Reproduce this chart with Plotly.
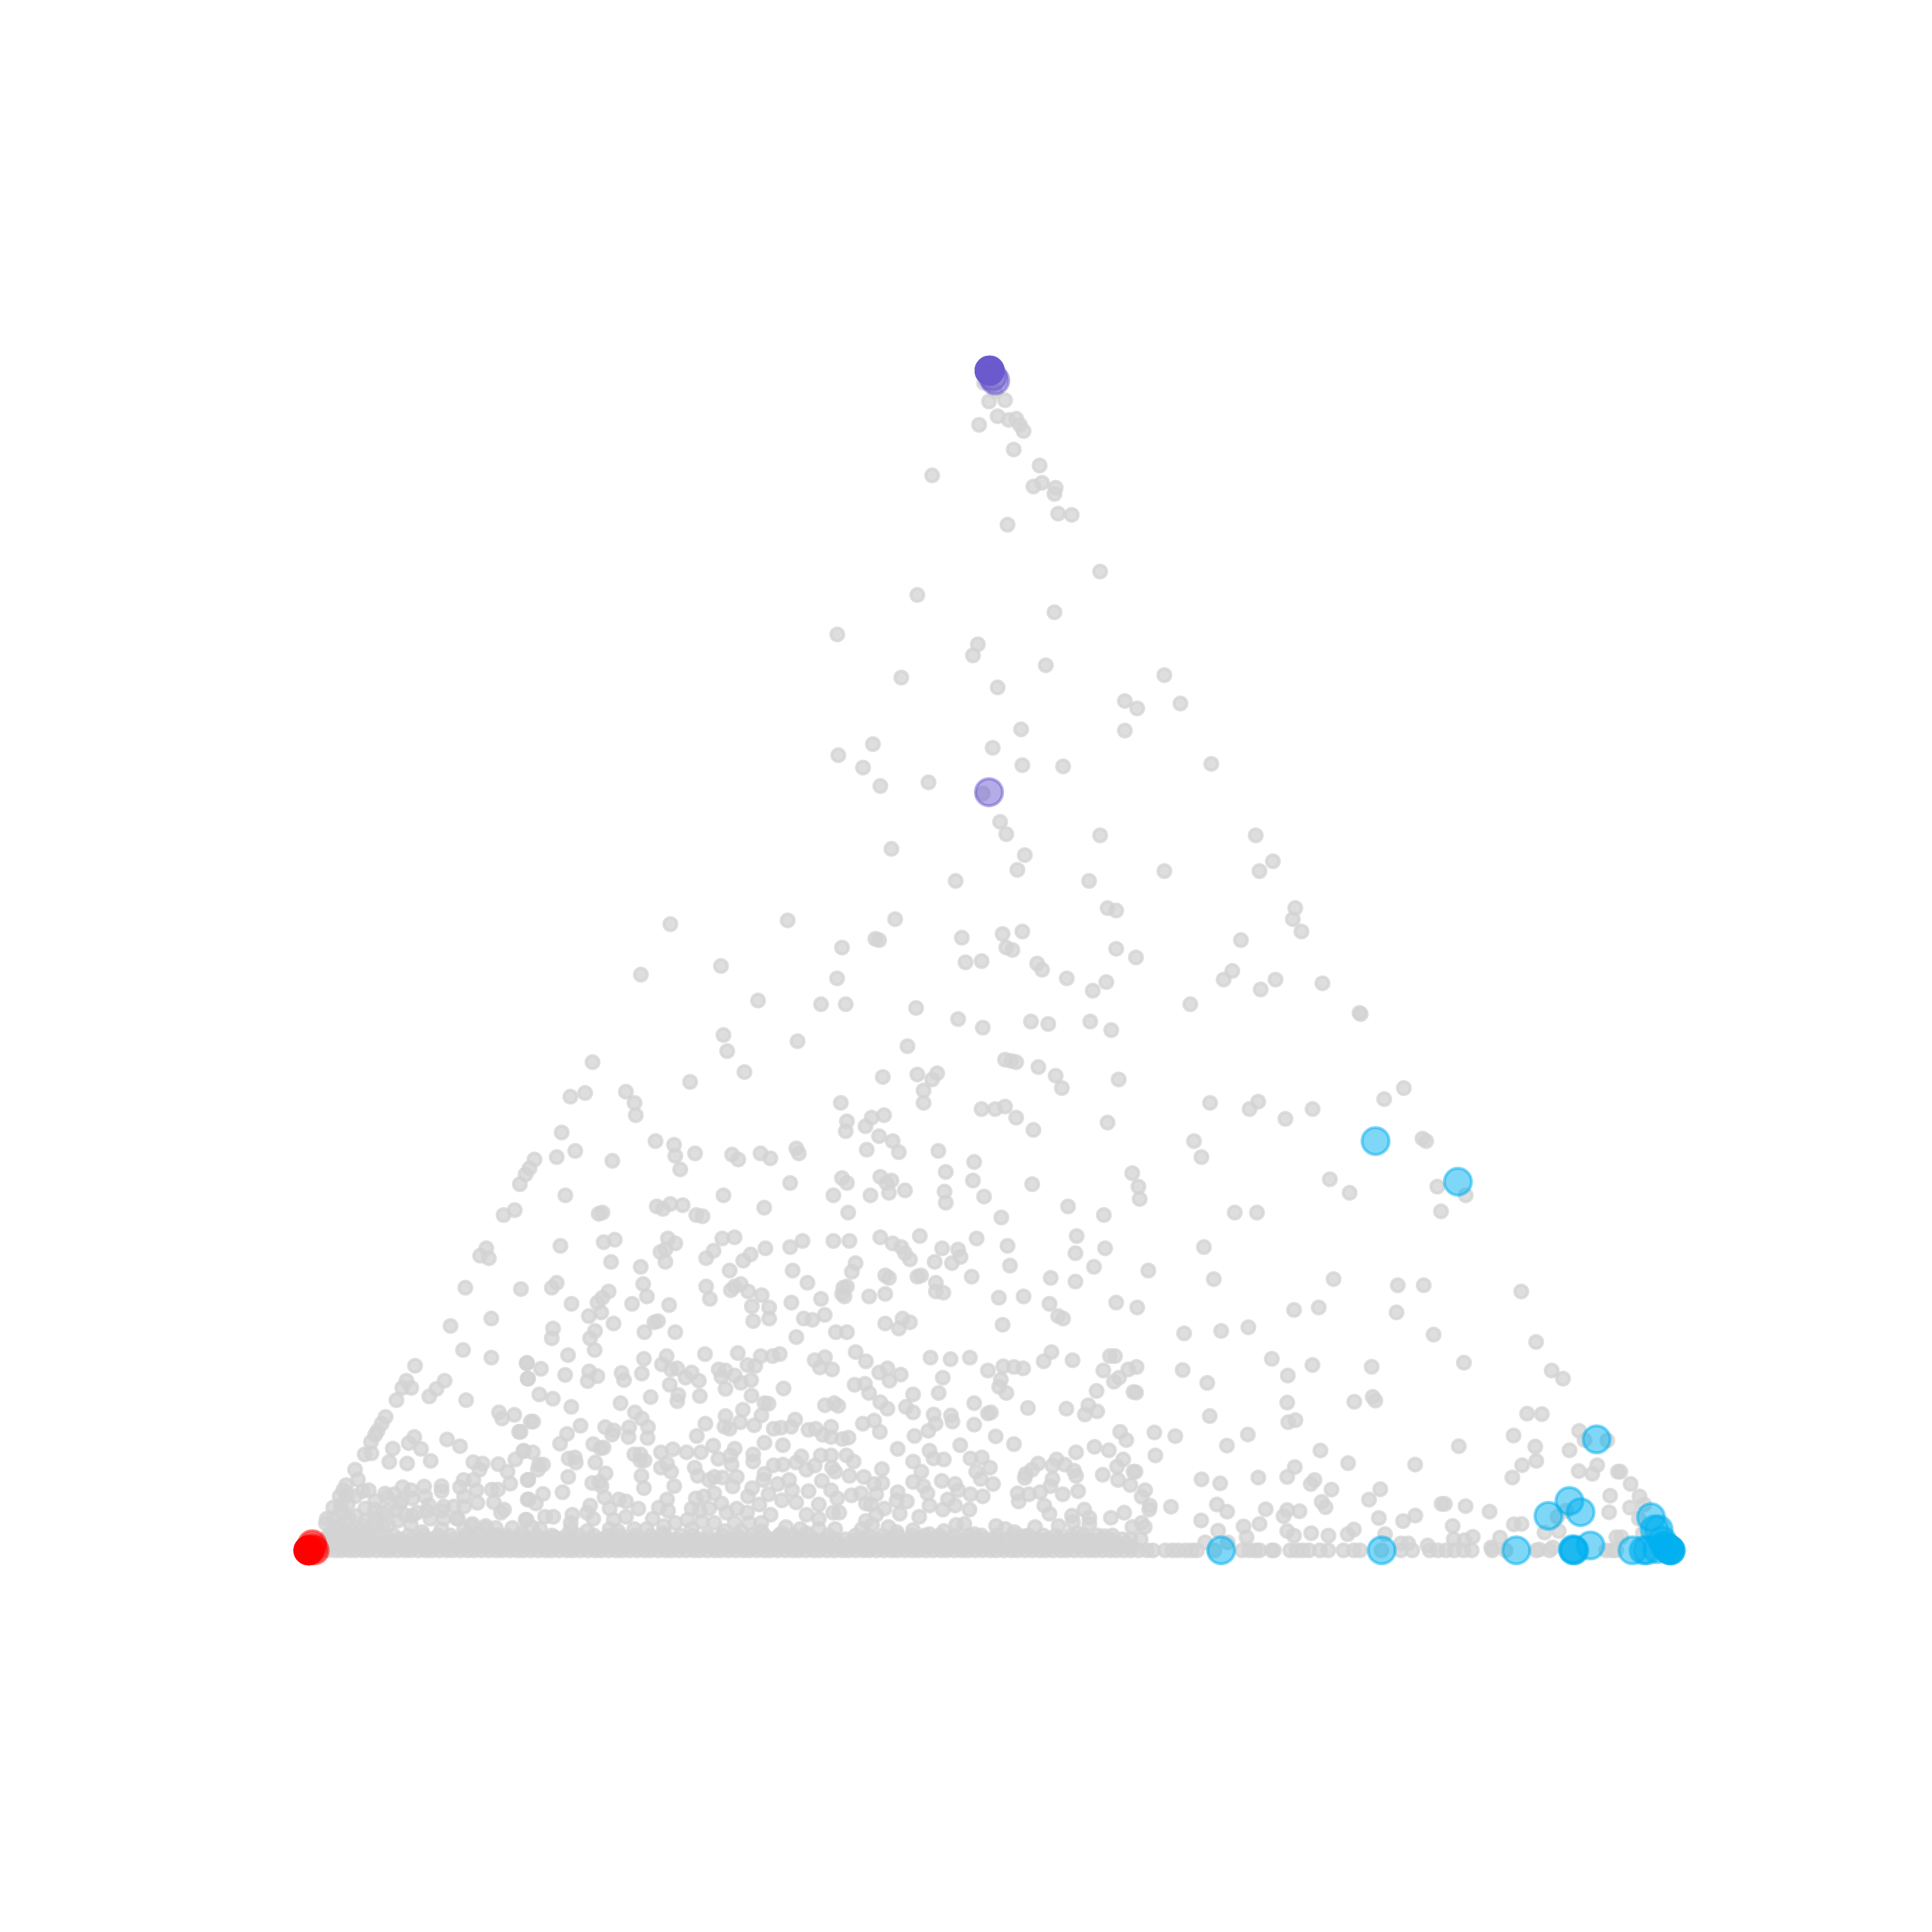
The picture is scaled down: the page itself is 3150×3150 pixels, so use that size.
import plotly.graph_objects as go

# Readings: u runs along the base, v down from the apex level.
LEFT_U, RIGHT_U, BASE_V, APEX_V = 252.0, 1355.0, 1258.0, 301.0

grey_upper = [(803,310),(799,311),(808,318),(803,326),(816,325),(795,345),(810,338),(819,341),(825,340),(828,345),(831,350),(823,365),(844,378),(757,386),(839,395),(846,392),(857,396),(856,401),(859,417),(870,418),(818,426),(893,464),(745,483),(856,497),(680,515),(794,523),(790,532),(849,540),(732,550),(810,558),(945,548),(913,569),(923,575),(958,571),(829,592),(913,593),(709,604),(681,613),(806,607),(701,623),(830,621),(863,622),(983,620),(715,638),(754,635),(798,644),(812,667),(817,677),(893,678),(1019,678),(724,689),(832,694),(1033,699),(826,706),(945,707),(1022,707),(776,715),(884,715),(899,737),(906,739),(1051,737),(1049,746),(727,746),(640,747),(545,750),(781,761),(814,758),(830,756),(1056,756),(711,762),(714,763),(684,769),(817,769),(822,771),(906,770),(1007,763),(922,777),(784,781),(797,780),(842,782),(846,787),(586,784),(521,791),(1000,788),(993,795),(866,794),(680,794),(1035,795),(898,797),(887,804),(1023,803),(1073,798),(616,812),(667,815),(687,815),(744,818),(966,815),(1103,822),(1104,823),(778,827),(837,829),(851,831),(885,829),(798,834),(902,836),(588,840),(648,845),(737,849),(591,853),(816,860),(821,861),(825,862),(843,866),(482,862),(605,870),(717,874),(745,872),(761,871),(757,876),(857,873),(908,876),(561,878),(1139,883),(509,886),(476,887),(464,890),(516,895),(683,895),(750,885),(750,895),(862,883),(982,895),(1021,894),(1014,900),(1065,900),(1123,892),(797,900),(808,900),(816,898),(825,907),(718,905),(708,907),(703,914),(517,905),(899,911),(1043,908),(687,918),(688,910),(839,917),(457,919),(1154,924),(1157,926),(969,926),(725,926),(714,922),(533,926),(548,929),(549,938),(704,933),(730,935),(647,932),(649,936),(595,937),(600,941),(618,936),(626,940),(565,936),(468,934),(453,939),(435,941),(498,942),(762,934),(791,943),(975,939),(431,948),(427,953),(423,961),(553,949),(684,956),(688,960),(768,951),(919,952),(715,955),(720,960),(724,958),(642,960),(677,970),(707,970),(722,968),(735,966),(790,958),(767,967),(768,976),(799,971),(924,963),(925,973),(1079,957),(1095,968),(1166,963),(1189,970),(838,961),(460,970),(588,970),(534,979),(545,977),(555,978),(539,981),(621,980),(867,979),(410,986),(419,982),(487,985),(490,984),(566,986),(571,987),(689,984),(813,988),(896,986),(1002,984),(1020,984),(1169,983)]

grey_middle = [(587,1005),(597,1004),(543,1005),(549,1009),(491,1008),(500,1006),(652,1007),(642,1012),(690,1007),(715,1004),(747,1003),(793,1005),(874,1003),(456,1011),(396,1013),(391,1019),(398,1021),(541,1014),(537,1016),(580,1015),(574,1021),(610,1018),(604,1023),(622,1013),(677,1007),(725,1009),(732,1012),(735,1017),(765,1013),(778,1014),(818,1011),(873,1017),(897,1013),(977,1012),(497,1024),(521,1028),(541,1024),(593,1031),(644,1031),(695,1025),(692,1032),(739,1022),(759,1024),(773,1025),(780,1020),(820,1027),(932,1031),(985,1038),(1082,1038),(379,1045),(424,1046),(449,1045),(453,1041),(495,1048),(523,1042),(526,1052),(574,1044),(597,1044),(602,1042),(577,1054),(594,1047),(608,1048),(619,1051),(656,1041),(685,1045),(688,1044),(719,1035),(722,1037),(745,1036),(748,1035),(760,1041),(760,1048),(766,1049),(789,1036),(853,1037),(873,1040),(888,1028),(1134,1043),(1155,1043),(1234,1048),(490,1053),(486,1057),(465,1058),(514,1058),(544,1059),(643,1057),(667,1054),(684,1050),(686,1052),(706,1052),(719,1050),(811,1053),(831,1052),(852,1058),(906,1057),(923,1061),(1050,1063),(1070,1061),(1133,1065),(400,1070),(479,1068),(489,1065),(611,1060),(625,1061),(612,1072),(625,1070),(653,1070),(660,1071),(670,1067),(532,1073),(535,1072),(499,1074),(859,1068),(863,1070),(733,1070),(739,1073),(719,1074),(730,1078),(367,1076),(450,1078),(484,1080),(480,1086),(449,1086),(524,1081),(549,1081),(647,1085),(679,1081),(688,1081),(814,1075),(961,1082),(991,1080),(1013,1077),(1163,1083),(1246,1089)]

grey_wedge = [(266,1236),(272,1232),(278,1226),(284,1220),(290,1214),(296,1210),(274,1240),(282,1236),(290,1230),(298,1224),(306,1218),(314,1212),(286,1242),(296,1238),(306,1232),(316,1226),(326,1220),(336,1216),(300,1242),(312,1238),(324,1234),(336,1230),(348,1226),(360,1226),(372,1232),(384,1238),(396,1240)]

# Finer readings of the lower part, taken from 3x crops (crop x, crop y).
crop_450 = [(687,82),(925,5),(1063,42),(1235,70),(1240,145),(640,155),(625,190),(672,190),(600,250),(835,155),(795,195),(760,232),(940,250),(1100,310),(1115,340),(1175,322),(1198,405),(1255,355),(547,332),(525,365),(505,400),(490,420),(470,455),(478,510),(445,515),(687,430),(660,460),(720,488),(582,487),(565,552),(652,560),(767,547),(847,442),(910,475),(1220,497),(1180,540),(975,553),(1020,560),(1005,590),(1097,563),(1142,600),(1155,658),(1240,640),(392,590),(412,638),(345,665),(340,690),(360,715),(465,690),(630,675),(670,690),(555,725),(590,710),(625,740),(735,672),(740,720),(758,762),(820,670),(820,695),(910,675),(928,640),(975,640),(990,690),(1065,687),(1095,687),(995,752),(930,720),(1075,750),(1110,800),(1125,785),(1240,735),(495,785),(530,800),(600,790),(640,810),(700,800),(765,830),(830,770),(880,770),(930,770),(830,830),(900,830),(970,855),(1035,865),(1085,875),(1165,875),(1230,835),(450,838),(500,860),(560,860),(670,860),(725,895),(820,880),(930,880),(330,760),(300,720),(270,775),(230,830),(340,800),(370,830),(320,860),(280,895),(350,895),(420,890),(280,950),(1000,900),(1100,910),(1210,900)]

crop_850 = [(37,68),(105,97),(42,145),(237,30),(223,127),(340,110),(380,133),(333,157),(367,5),(498,117),(510,152),(597,120),(607,48),(718,35),(695,75),(740,100),(770,95),(840,115),(810,140),(875,155),(733,175),(775,225),(770,255),(880,230),(640,235),(97,222),(163,243),(253,283),(493,265),(563,310),(597,340),(627,382),(625,435),(67,355),(298,375),(232,415),(198,463),(5,405),(418,382),(460,398),(452,418),(535,383),(532,430),(907,365),(865,425),(1005,328),(1090,297),(1000,380),(1025,390),(1077,358),(1145,373),(1132,228),(1195,265),(1180,325),(1215,268),(1288,193),(972,100),(1005,105),(985,135),(1005,195),(1050,130),(1080,165),(1130,152),(1112,78),(1150,83),(1177,35),(1235,35),(1270,25),(1065,20),(905,25),(1240,390),(1195,458),(1275,385),(1345,345),(1325,380),(1410,395),(1445,390),(1480,420),(1285,470),(1490,275),(1440,55),(1465,90),(1490,40),
(65,505),(20,500),(95,565),(115,565),(90,590),(43,640),(240,535),(270,530),(275,555),(238,625),(210,700),(115,708),(45,735),(80,755),(360,465),(395,485),(410,482),(370,555),(420,608),(355,655),(390,650),(400,670),(415,725),(485,735),(520,745),(440,780),(590,515),(560,515),(590,545),(610,545),(595,620),(607,680),(690,505),(748,490),(815,505),(885,505),(945,472),(970,537),(1050,487),(1030,520),(1035,565),(1060,625),(1040,672),(950,625),(990,628),(925,640),(855,580),(870,620),(690,580),(720,560),(740,600),(755,670),(720,735),(680,775),(725,790),(760,850),(650,830),(705,865),(580,780),(520,820),(460,835),(440,880),(345,765),(330,800),(360,830),(330,890),(258,810),(250,850),(165,820),(125,820),(35,835),(60,870),(1140,515),(1140,550),(1240,568),(1285,565),(1195,610),(1190,640),(1260,660),(1315,640),(1330,690),(1215,710),(1135,680),(1115,720),(1410,695),(1375,525),(1350,555),(1400,590),(1440,570),(1470,520),(1475,645),(860,730),(900,720),(950,705),(985,755),(840,780),(880,790),(925,780),(820,835),(890,845),(950,850),(1010,800),(1060,780),(1110,800),(1170,760),(1225,810),(1050,850),(1120,850),(1180,850),(1280,740),(1350,750),(1300,870),(1400,810),(1460,760),(1460,830),(1370,880),(1460,880),(1000,890),(1080,890),(1180,890),(250,880),(170,920),(100,880),(560,880),(620,880),(700,900),(840,880),(1280,900),(1400,900),(480,890)]

crop_1350 = [(25,580),(95,520),(130,550),(20,520),(40,600),(110,620),(180,625),(230,660),(270,655),(120,715),(165,705),(240,710),(20,690),(50,730),(30,800),(60,800),(40,880),(345,700),(340,740),(390,745),(420,650),(460,600),(420,550),(470,670),(490,705),(500,765),(355,805),(280,780),(215,760),(190,755),(240,810),(190,840),(170,880),(220,860),(300,870),(340,895),(420,885),(450,820),(500,905),(570,890),(560,645),(625,660),(640,690),(700,710),(760,720),(590,735),(625,765),(565,785),(695,785),(630,860),(670,855),(720,905),(810,935),(825,865),(870,880),(915,895),(960,915),(985,945),(1015,870),(1060,935),(1130,865),(1120,935),(1195,815),(1200,845),(1255,785),(1280,825),(1280,855),(1225,900),(1280,935),(1355,915),(1385,825),(1450,800),(1490,870),(1480,930),(1060,765),(1085,805),(1150,710),(1100,635),(1090,670),(1040,700),(930,705),(935,745),(985,710),(965,630),(1000,590),(1030,560),(1120,540),(1100,570),(1160,565),(1205,595),(1215,620),(1225,695),(1415,575),(1445,540),(1420,640),(1345,615),(1480,665),(1495,600),(1215,505),(1305,478),(1375,495),(1430,405),(1460,445),(970,610),(25,100),(190,60),(135,175),(185,170),(205,215),(260,260),(295,292),(255,115),(295,95),(305,155),(360,125),(420,222),(385,283),(420,310),(520,320),(530,365),(495,400),(605,325),(612,355),(718,265),(718,370),(785,315),(800,310),(427,425),(345,488),(500,497),(520,535),(570,540),(650,470),(700,535),(755,530),(795,580),(728,600),(750,635),(810,660),(268,587),(175,365),(230,350),(258,405),(20,380),(20,430),(75,440),(105,433),(823,427),(912,465),(980,288),(1168,292),(1258,320),(1275,275),(1318,305),(565,140),(545,215),(505,42),(603,50),(697,42),(140,15),(785,105),(848,150),(840,185),(875,215),(860,85),(912,88),(957,95),(1057,60),(1095,15),(1198,55),(1348,105),(1380,35),(1405,35),(1400,160),(1425,140),(1470,100),(1315,205),(1495,210),(35,265),(55,278)]

crop_1850 = [(670,48),(868,78),(1157,87),(748,130),(235,103),(355,166),(10,88),(8,213),(745,262),(1072,258),(1162,234),(1175,252),(367,328),(750,358),(785,348),(97,408),(199,426),(553,418),(451,472),(907,496),(102,520),(782,577),(1042,558),(1369,565),(5,600),(745,625),(604,628),(327,637),(418,657),(878,640),(860,660),(961,687),(1199,685),(52,690),(35,722),(1144,736),(913,747),(932,773),(402,760),(452,795),(178,771),(75,765),(72,785),(640,783),(745,787),(805,793),(727,817),(1192,826),(1370,814),(1310,841),(1498,757),(325,838),(532,867),(610,855),(35,850),(50,870),(745,890),(778,912),(862,900),(946,912),(1070,882),(1040,905),(408,888),(1222,905),(345,945),(455,945),(547,920),(30,930),(1300,950),(1335,950),(1430,960),
(20,985),(60,985),(90,985),(150,985),(185,985),(215,985),(250,985),(280,985),(305,985),(390,985),(525,985),(560,985),(590,985),(610,985),(670,985),(680,985),(760,985),(790,985),(820,985),(850,985),(905,985),(945,985),(1020,985),(1070,985),(1100,985),(1205,985),(1300,985),(1355,985),(1440,985),(1480,985)]

crop_2350 = [(107,67),(535,105),(590,145),(415,316),(487,318),(669,400),(695,445),(812,447),(349,423),(455,477),(82,475),(622,495),(460,547),(391,568),(343,628),(757,568),(667,597),(733,610),(870,600),(858,600),(920,660),(970,720),(820,717),(917,775),(815,798),(990,760),(960,830),(605,790),(563,820),(14,757),(115,768),(232,795),(52,865),(350,857),(388,855),(500,897),(570,890),(283,922),(150,918),(57,930),(110,935),(240,970),(245,985),(145,985),(105,985),(60,985),(20,985),(310,985),(460,985),(475,980),(525,985),(540,970),(850,920),(875,920),(830,985),(800,985),(980,900),(850,985)]

floor_u = [258,263,268,274,279,285,290,296,301,307,313,318,324,330,335,341,347,352,358,364,369,375,381,386,392,398,404,409,415,421,426,432,438,444,449,455,461,466,472,478,484,489,495,501,506,512,518,524,529,535,541,546,552,558,564,569,575,581,586,592,598,604,609,615,621,626,632,638,644,649,655,661,666,672,678,684,689,695,701,706,712,718,724,729,735,741,746,752,758,764,769,775,781,786,792,798,804,809,815,821,826,832,838,844,849,855,861,866,872,878,884,889,895,901,906,912,918]
row_1255_u = [260,268,277,285,294,303,311,320,329,337,346,355,363,372,381,389,398,407,415,424,433,441,450,459,467,476,485,493,502,511,519,528,537,545,554,563,571,580,589,597,606,615,623,632,641,649,658,667,675,684,693,701,710,719,727,736,745,753,762,771,779,788,797,805,814,823,831,840,849,857,866,875,883,892,901,909,918]
row_1252_u = [262,270,278,286,294,302,310,318,326,334,342,350,358,366,374,382,390,398,406,414,422,430,438,446,454,462,470,478,486,494,502,510,518,526,534,542,550,558,566,574,582,590,598,606,614,622,630,638,646,654,662,670,678,690,698,706,714,722,730,738,746,754,762,770,778,786,794,802,810,818,826,834,842,850,858,866,874,882,890,898,906,914]
row_1249_u = [266,274,283,292,300,309,317,326,335,343,352,360,369,378,386,395,403,412,421,429,438,446,455,464,472,481,489,498,507,515,524,532,541,550,558,567,575,584,593,601,610,618,627,636,644,653,661,670,679,687,696,704,713,722,730,739,747,756,765,773,782,790,799,808,816,825,833,842,851,859,868,876,885,894,902,911]
row_1246_u = [268,277,289,299,309,321,333,345,357,367,379,391,403,413,425,437,449,461,471,483,495,505,517,529,541,553,563,575,587,599,611,621,633,645,657,673,695,705,717,729,741,751,763,775,787,797,809,823,835,847,857,869,879,891,903]

blue_points = [(1116,926),(1183,959),(1295,1168),(1273,1218),(1256,1230),(1282,1227),(991,1258),(1121,1258),(1230,1258),(1290,1254),(1276,1258),(1277,1258),(1276,1257),(1324,1258),(1339,1231),(1342,1241),(1346,1241),(1336,1258),(1333,1258),(1344,1257),(1348,1250),(1350,1254),(1352,1256),(1354,1258),(1355,1258),(1354,1257),(1355,1258)]
purple_points = [(803,301),(803,301),(803,301),(803,301),(803,301),(803,301),(803,301),(808,309),(806,306),(803,643)]
red_points = [(252,1258),(252,1258),(252,1258),(252,1258),(252,1258),(252,1258),(253,1258),(255,1253),(257,1258),(255,1256)]


def from_crop(points, left):
    # A crop starts at y = 2200 of the full picture and is enlarged three times.
    return [(LEFT_U + (left + x / 3 - 507) * 0.498,
             BASE_V - (2528 - (2200 + y / 3)) * 0.498) for x, y in points]


def to_abc(points):
    side = RIGHT_U - LEFT_U
    height = BASE_V - APEX_V
    a, b, c = [], [], []
    for u, v in points:
        top = min(1.0, max(0.0, (BASE_V - v) / height))
        right = max(0.0, min(1.0 - top, (u - LEFT_U) / side - top / 2))
        a.append(top)
        b.append(1.0 - top - right)
        c.append(right)
    return a, b, c


def series(points, rgb, alpha, size, line_width):
    a, b, c = to_abc(points)
    color = f"rgba({rgb},{alpha})"
    return go.Scatterternary(
        a=a, b=b, c=c, mode="markers", cliponaxis=False, showlegend=False,
        marker=dict(color=color, size=size, line=dict(color=color, width=line_width)),
    )


floor_points = [(u, 1258) for u in floor_u]
floor_points += [(u, 1255) for u in row_1255_u]
floor_points += [(u, 1252) for u in row_1252_u]
floor_points += [(u, 1249) for u in row_1249_u]
floor_points += [(u, 1246) for u in row_1246_u]
grey_points = (grey_upper + grey_middle + grey_wedge
               + from_crop(crop_450, 450) + from_crop(crop_850, 850)
               + from_crop(crop_1350, 1350) + from_crop(crop_1850, 1850)
               + from_crop(crop_2350, 2350) + floor_points)

fig = go.Figure()
fig.add_trace(series(grey_points, "211,211,211", 0.75, 21, 5))
fig.add_trace(series(blue_points, "0,176,240", 0.5, 44, 5))
fig.add_trace(series(purple_points, "106,90,205", 0.5, 44, 5))
fig.add_trace(series(red_points, "255,0,0", 0.5, 44, 5))

hidden = dict(showgrid=False, showline=False, showticklabels=False, ticks="", title=dict(text=""))
fig.update_layout(
    width=3150, height=3150, showlegend=False,
    margin=dict(l=495, r=434, t=596, b=630, pad=0),
    paper_bgcolor="white",
    ternary=dict(bgcolor="white", aaxis=hidden, baxis=hidden, caxis=hidden, sum=1),
)
fig.write_html("out.html")
